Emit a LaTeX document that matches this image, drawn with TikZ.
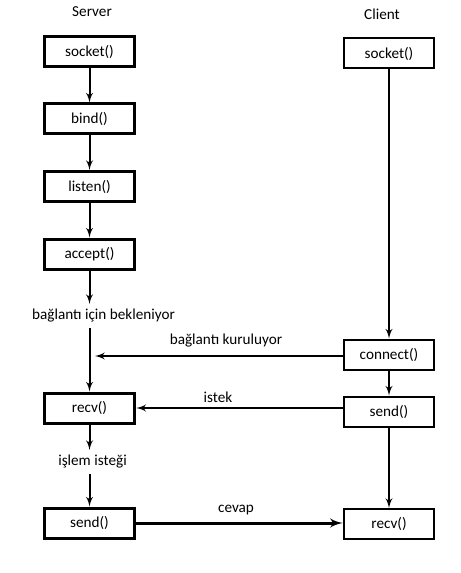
\documentclass[tikz,border=0pt]{standalone}
\usepackage{fontspec}
\setmainfont{Carlito}
\usetikzlibrary{positioning, arrows, arrows.meta}

\begin{document}
\begin{tikzpicture}[x=0.75pt, y=-0.75pt, >=latex', line width=1.5pt,
    font=\fontsize{11.4}{13.7}\selectfont,
    sbox/.style={draw, line width=2.25pt, minimum width=68pt, minimum height=22.5pt, inner sep=0pt},
    cbox/.style={draw, line width=1.5pt, minimum width=68pt, minimum height=22.5pt, inner sep=0pt}]
    \useasboundingbox (0,0) rectangle (460,573);

    % server tarafi
    \node (server) at (92,12) {Server};
    \node [sbox] (ssocket) at (89.5,51.5) {socket()};
    \node [sbox] (sbind) at (89.5,119) {bind()};
    \node [sbox] (slisten) at (89.5,186.5) {listen()};
    \node [sbox] (saccept) at (89.5,254) {accept()};
    \node (bekle) at (103.5,316) {bağlantı için bekleniyor};
    \node [sbox] (srecv) at (89.5,408) {recv()};
    \node (islem) at (92.5,462) {işlem isteği};
    \node [sbox] (ssend) at (89.5,523) {send()};

    % client tarafi
    \node (client) at (382,14) {Client};
    \node [cbox] (csocket) at (389,53.5) {socket()};
    \node [cbox] (connect) at (389,354.5) {connect()};
    \node [cbox] (csend) at (389,411.5) {send()};
    \node [cbox] (crecv) at (389,524) {recv()};

    \coordinate (giris) at (95,356);

    % oklar
    \draw [->] (ssocket) -- (sbind);
    \draw [->] (sbind) -- (slisten);
    \draw [->] (slisten) -- (saccept);
    \draw [->] (saccept) -- (saccept |- bekle.north);
    \draw [->] (saccept |- bekle.south) -- (srecv);
    \draw [->] (srecv) -- (srecv |- islem.north);
    \draw [->] (srecv |- islem.south) -- (ssend);

    \draw [->] (csocket) -- (connect);
    \draw [->] (connect) -- (csend);
    \draw [->] (csend) -- (crecv);

    \draw [->] (connect.west |- giris) -- (giris);
    \draw [->] (csend.west |- srecv) -- (srecv.east);
    \draw [->, line width=2.25pt] (ssend) -- (ssend -| crecv.west);

    % ok etiketleri
    \draw
        (226,341) node (kurul) {bağlantı kuruluyor}
        (218,397) node (istek) {istek}
        (236,510) node (cevap) {cevap}
    ;

\end{tikzpicture}
\end{document}
